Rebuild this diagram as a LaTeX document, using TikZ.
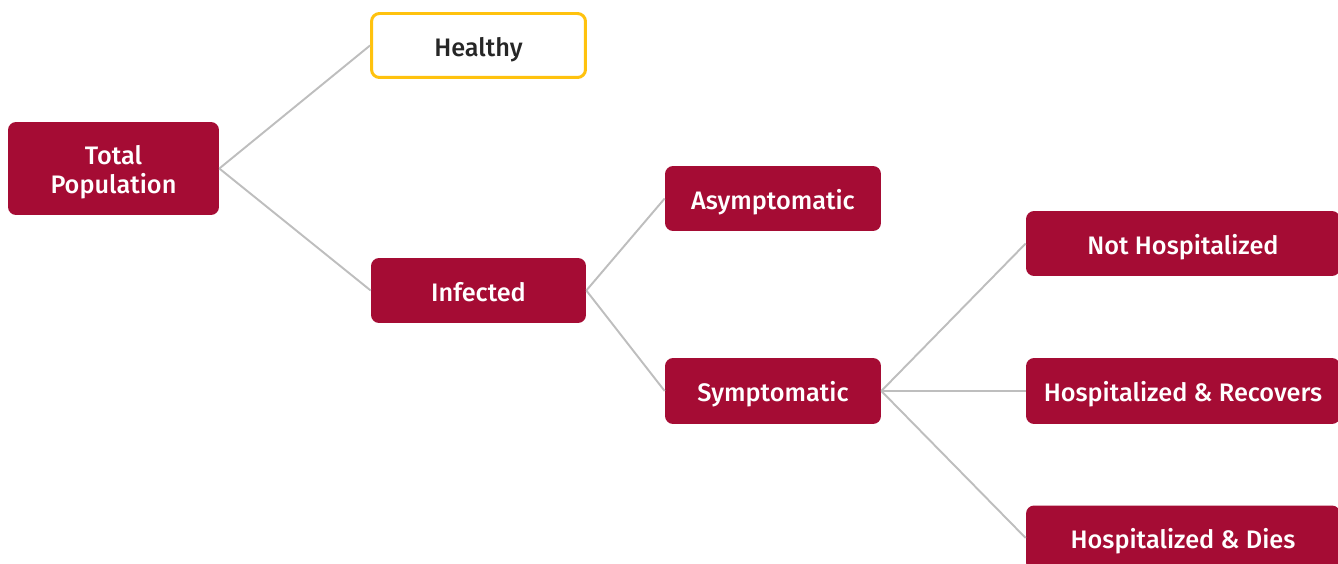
\documentclass[tikz,border=0pt]{standalone}
\usepackage{fontspec}
\setmainfont{Fira Sans}
\newfontfamily\boxfont{Fira Sans Medium}

\tikzset{
    stage/.style={draw=none, fill=crimson, text=white, rounded corners=0.16cm,
        font=\boxfont\fontsize{14.4}{16.5}\selectfont, align=center, inner sep=0pt,
        text height=12.5pt, text depth=0pt},
    link/.style={draw=linegray, line width=1.1pt}
}

\begin{document}
\begin{tikzpicture}[x=0.02cm, y=-0.02cm]

    % Colors
    \definecolor{crimson}{RGB}{165,12,52}
    \definecolor{healthyyellow}{RGB}{255,194,14}
    \definecolor{linegray}{RGB}{190,190,190}

    \useasboundingbox (0,0) rectangle (1338,564);

    % Boxes
    \node[stage, text height=28pt, minimum width=4.22cm, minimum height=1.86cm] (total) at (113.5,168.5) {Total\\Population};
    \node[stage, fill=white, text=black!85, draw=healthyyellow, line width=1.7pt,
        minimum width=4.28cm, minimum height=1.28cm] (healthy) at (478.5,45.5) {Healthy};
    \node[stage, minimum width=4.3cm, minimum height=1.3cm] (infected) at (478.5,290.5) {Infected};
    \node[stage, minimum width=4.32cm, minimum height=1.3cm] (asym) at (773,198.5) {Asymptomatic};
    \node[stage, minimum width=4.32cm, minimum height=1.32cm] (sym) at (773,391) {Symptomatic};
    \node[stage, minimum width=6.28cm, minimum height=1.3cm] (nothosp) at (1183,243.5) {Not Hospitalized};
    \node[stage, minimum width=6.28cm, minimum height=1.32cm] (hosprec) at (1183,391) {Hospitalized \& Recovers};
    \node[stage, minimum width=6.28cm, minimum height=1.3cm] (hospdies) at (1183,538) {Hospitalized \& Dies};

    % Connectors
    \draw[link] (total.east) -- (healthy.west);
    \draw[link] (total.east) -- (infected.west);
    \draw[link] (infected.east) -- (asym.west);
    \draw[link] (infected.east) -- (sym.west);
    \draw[link] (sym.east) -- (nothosp.west);
    \draw[link] (sym.east) -- (hosprec.west);
    \draw[link] (sym.east) -- (hospdies.west);

\end{tikzpicture}
\end{document}
